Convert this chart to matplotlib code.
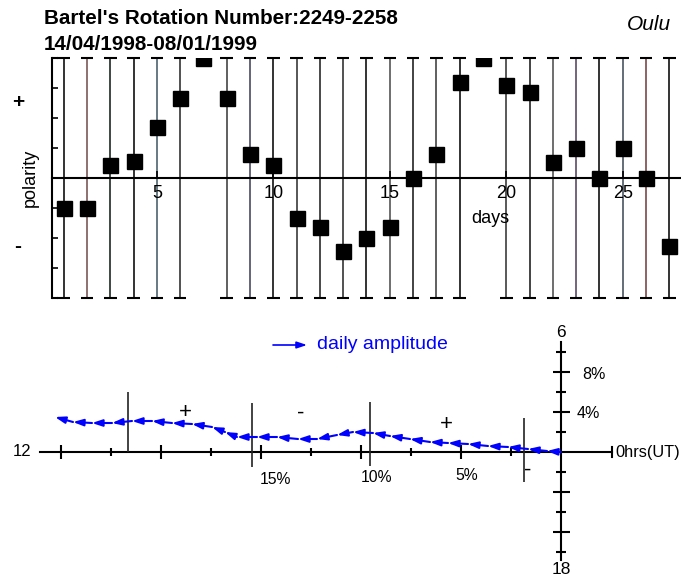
import numpy as np
import matplotlib
matplotlib.use("Agg")
import matplotlib.pyplot as plt

plt.rcParams['font.family'] = ['Liberation Sans', 'DejaVu Sans']

# ---- top panel: daily polarity ----
days = np.arange(1, 28)
polarity = [-1.0, -1.0, 0.43, 0.57, 1.7, 2.67, 4.0, 2.67, 0.8, 0.43,
            -1.33, -1.63, -2.43, -2.0, -1.63, 0.0, 0.8, 3.2, 4.0, 3.1,
            2.87, 0.53, 1.0, 0.0, 1.0, 0.0, -2.26]
line_days = [d for d in days if d not in (7, 19)]
line_colors = ['#111111', '#7a5858', '#1e2a22', '#111111', '#4d6470', '#333333',
               '#444444', '#4a4a62', '#111111', '#3a3a3a', '#2a2a2a', '#333333',
               '#111111', '#555555', '#222222', '#444444', '#111111', '#3c3c3c',
               '#222222', '#555555', '#5a4a66', '#111111', '#4a5560', '#7a4848',
               '#111111']
day_ticks = [5, 10, 15, 20, 25]

# ---- bottom panel: harmonic dial (cumulative daily vectors, %) ----
amp_x = [0.0, -0.70, -1.65, -2.65, -3.65, -4.65, -5.65, -6.55, -7.55, -8.55,
         -9.4, -10.4, -11.2, -12.2, -13.15, -14.2, -15.2, -16.2, -16.8, -17.45,
         -18.45, -19.45, -20.45, -21.45, -22.45, -23.45, -24.4, -25.3]
amp_y = [0.0, 0.1, 0.3, 0.5, 0.6, 0.8, 0.9, 1.0, 1.3, 1.6,
         1.9, 2.0, 1.7, 1.3, 1.3, 1.5, 1.5, 1.5, 2.0, 2.5,
         2.8, 2.9, 3.1, 3.1, 2.9, 2.9, 3.0, 3.5]
sector_x = [-21.65, -15.45, -9.55, -1.85]
sector_top = [6.0, 4.9, 5.0, 3.4]
sector_bot = [0.0, -1.5, -1.4, -3.0]
sector_sign = ['+', '-', '+', '-']
sign_x = [-18.8, -13.0, -5.75, -1.68]
sign_y = [3.9, 3.9, 2.7, -1.8]
h_long = [-5, -10, -15, -20, -25]
h_short = [-2.5, -7.5, -12.5, -17.5, -22.5]
pct_labels = ['15%', '10%', '5%']
pct_x = [-14.3, -9.25, -4.7]
pct_y = [-2.8, -2.5, -2.4]
v_long = [8, 4, -4, -8]
v_short = [10, 6, 2, -2, -6, -10]

W, H = 681, 578
fig = plt.figure(figsize=(W / 100, H / 100), dpi=100)

ax = fig.add_axes([52 / W, 1 - 298 / H, 629 / W, 240 / H])
ax.set_xlim(0.5, 27.5)
ax.set_ylim(-4, 4)
for s in ['top', 'right']:
    ax.spines[s].set_visible(False)
ax.spines['left'].set_linewidth(1.5)
ax.spines['bottom'].set_position(('data', 0))
ax.spines['bottom'].set_linewidth(1.5)
ax.set_yticks(np.arange(-3, 4))
ax.set_yticklabels([])
ax.tick_params(axis='y', direction='in', length=4.5, width=1.2)
ax.set_xticks(day_ticks)
ax.set_xticklabels([str(d) for d in day_ticks], fontsize=13)
ax.tick_params(axis='x', direction='in', length=5, width=1.2, pad=5)

ax.vlines(line_days, -4, 4, colors=line_colors, lw=1.2, zorder=1)
for yy in (4, -4):
    ax.hlines([yy] * len(line_days), np.array(line_days) - 0.27,
              np.array(line_days) + 0.27, colors='k', lw=1.5, clip_on=False)
    ax.hlines(yy, 0.5, 0.75, colors='k', lw=1.5, clip_on=False)
ax.plot(days, polarity, 's', color='k', markersize=10.8, zorder=3)
ax.text(19.3, -1.35, 'days', fontsize=13, ha='center', va='center')
ax.text(-0.45, 0, 'polarity', fontsize=13, rotation=90, ha='center', va='center')
ax.text(-0.97, 2.5, '+', fontsize=15, fontweight='bold', ha='center', va='center')
ax.text(-0.97, -2.3, '-', fontsize=15, fontweight='bold', ha='center', va='center')

fig.text(44 / W, 1 - 18 / H, "Bartel's Rotation Number:2249-2258",
         fontsize=14.9, fontweight='bold', va='center')
fig.text(44 / W, 1 - 44 / H, "14/04/1998-08/01/1999",
         fontsize=14.9, fontweight='bold', va='center')
fig.text(649 / W, 1 - 25 / H, "Oulu", fontsize=15, style='italic',
         ha='center', va='center')

# harmonic dial
bx = fig.add_axes([0, 0, 1, 258 / H])
bx.set_xlim(-561 / 20, 120 / 20)
bx.set_ylim(-126 / 10, 132 / 10)
bx.axis('off')

bx.plot([-26.05, 2.55], [0, 0], color='k', lw=1.5)
bx.plot([2.55, 2.55], [-0.5, 0.5], color='k', lw=1.5)
bx.vlines(h_long, -0.7, 0.7, colors='k', lw=1.5)
bx.vlines(h_short, -0.4, 0.4, colors='k', lw=1.5)
bx.plot([0, 0], [-10.8, 11.0], color='k', lw=1.5)
bx.hlines(v_long, -0.4, 0.45, colors='k', lw=1.5)
bx.hlines(v_short, -0.25, 0.25, colors='k', lw=1.5)

bx.text(-26.95, 0, '12', fontsize=12, ha='center', va='center')
bx.text(2.7, 0, '0hrs(UT)', fontsize=11.8, ha='left', va='center')
bx.text(0, 11.9, '6', fontsize=12.5, ha='center', va='center')
bx.text(0, -11.8, '18', fontsize=12.5, ha='center', va='center')
bx.text(1.65, 7.7, '8%', fontsize=11.5, ha='center', va='center')
bx.text(1.35, 3.9, '4%', fontsize=11.5, ha='center', va='center')
for lab, x, y in zip(pct_labels, pct_x, pct_y):
    bx.text(x, y, lab, fontsize=11.3, ha='center', va='center')

bx.vlines(sector_x, sector_bot, sector_top, colors='#222222', lw=1.2)
for s, x, y in zip(sector_sign, sign_x, sign_y):
    bx.text(x, y, s, fontsize=16, ha='center', va='center')

head = '-|>,head_length=0.6,head_width=0.2'
for i in range(1, len(amp_x)):
    bx.annotate('', xy=(amp_x[i], amp_y[i]), xytext=(amp_x[i - 1], amp_y[i - 1]),
                arrowprops=dict(arrowstyle=head, color='blue', lw=1.5,
                                mutation_scale=10, shrinkA=0, shrinkB=0))

bx.annotate('', xy=(-12.7, 10.7), xytext=(-14.4, 10.7),
            arrowprops=dict(arrowstyle=head, color='blue', lw=1.2,
                            mutation_scale=10, shrinkA=0, shrinkB=0))
bx.text(-12.2, 10.7, 'daily amplitude', color='blue', fontsize=14,
        ha='left', va='center')

fig.savefig('out.png', dpi=100)
